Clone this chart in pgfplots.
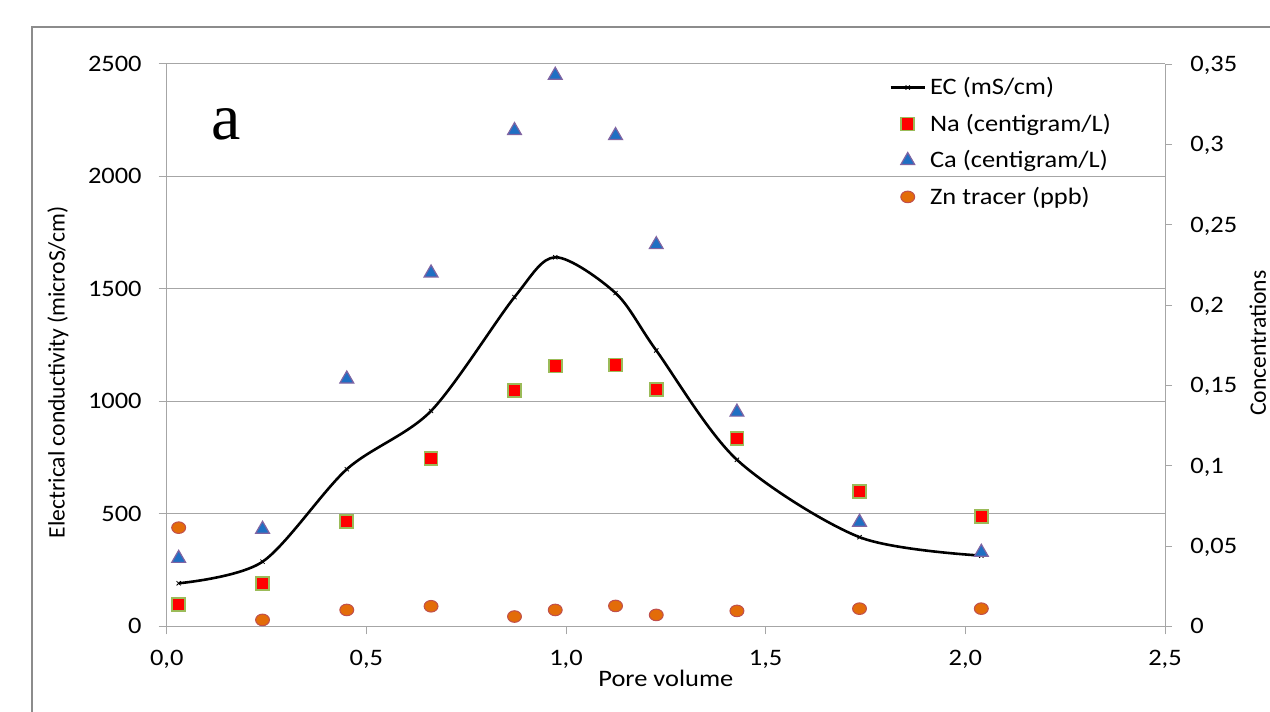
\documentclass[border=0pt]{standalone}
\usepackage{pgfplots}
\pgfplotsset{compat=1.18}
\usepackage{fontspec}
\setmainfont{Carlito}[FakeStretch=1.12]
\newfontfamily\plainfont{Carlito}
\newfontfamily\tnr{Liberation Serif}

\definecolor{gridgray}{HTML}{A6A6A6}
\definecolor{framegray}{HTML}{8C8C8C}
\definecolor{naRed}{HTML}{FF0000}
\definecolor{naEdge}{HTML}{9BBB59}
\definecolor{caBlue}{HTML}{1F6FC3}
\definecolor{caEdge}{HTML}{8064A2}
\definecolor{znOrange}{HTML}{E36C09}
\definecolor{znEdge}{HTML}{C0504D}

% pore volume, EC (left axis), Na / Ca / Zn (right axis)
\pgfplotstableread{
pv     EC    Na      Ca      Zn
0.030  192   0.0138  0.0424  0.0615
0.240  288   0.0269  0.0605  0.0041
0.451  699   0.0652  0.1540  0.0103
0.662  958   0.1046  0.2200  0.0126
0.871  1464  0.1469  0.3086  0.0062
0.973  1641  0.1622  0.3430  0.0103
1.124  1482  0.1627  0.3055  0.0128
1.226  1227  0.1473  0.2376  0.0072
1.428  741   0.1168  0.1334  0.0097
1.735  397   0.0840  0.0649  0.0111
2.040  315   0.0684  0.0462  0.0111
}\datatable

\newcommand\tickfont{\fontsize{11.8}{14}\selectfont}
\newcommand\rotfont{\plainfont\fontsize{11.8}{14}\selectfont}

\pgfplotsset{
  base/.style={
    scale only axis, width=499.15pt, height=281.25pt,
    at={(83.35pt,42.75pt)}, anchor=south west,
    xmin=0, xmax=2.5,
    tick label style={font=\tickfont},
    /pgf/number format/assume math mode=true,
    /pgf/number format/use comma,
    /pgf/number format/1000 sep={},
    axis line style={gridgray, line width=0.5pt, -},
    tick style={gridgray, line width=0.5pt},
    tick align=outside,
    scaled y ticks=false,
  }
}

\begin{document}
\begin{tikzpicture}
\path[use as bounding box] (0,0) rectangle (635pt,356pt);
\draw[framegray, line width=1pt] (16pt,-10pt) -- (16pt,342.5pt) -- (650pt,342.5pt);

\begin{axis}[base,
  ymin=0, ymax=2500,
  axis x line*=bottom, axis y line*=left,
  xtick={0,0.5,1,1.5,2,2.5},
  ytick={0,500,1000,1500,2000,2500},
  xticklabel={\pgfmathprintnumber[fixed,fixed zerofill,precision=1]{\tick}},
  ymajorgrids, grid style={gridgray, line width=0.5pt},
  major tick length=4pt,
  xticklabel style={anchor=base, inner sep=0pt, yshift=-15.75pt},
  yticklabel style={anchor=base east, inner sep=0pt, xshift=-8.35pt, yshift=-3.75pt},
  xlabel={Pore volume},
  xlabel style={font=\tickfont, at={(axis description cs:0.5,0)}, anchor=base, yshift=-30.25pt},
  ylabel={Electrical conductivity (microS/cm)},
  ylabel style={font=\rotfont, at={(axis description cs:-0.1089,0.452)}, anchor=center},
]
\addplot[black, line width=1.3pt, smooth, mark=x, mark size=1.5pt,
  mark options={solid, line width=0.4pt}] table[x=pv, y=EC] {\datatable};
\node[font=\tnr\fontsize{33}{33}\selectfont, anchor=base]
  at (axis description cs:0.0594,0.865) {a};
\end{axis}

\begin{axis}[base,
  ymin=0, ymax=0.35,
  axis y line*=right, axis x line=none,
  ytick={0,0.05,0.1,0.15,0.2,0.25,0.3,0.35},
  yticklabel={\pgfmathprintnumber[fixed,precision=2]{\tick}},
  major tick length=3.5pt,
  yticklabel style={anchor=base west, inner sep=0pt, xshift=9pt, yshift=-3.75pt},
  ylabel={Concentrations},
  ylabel style={font=\rotfont, at={(axis description cs:1.093,0.504)}, anchor=center},
  legend style={at={(axis description cs:0.7235,0.984)}, anchor=north west,
    draw=none, fill=none, inner sep=0pt, row sep=4.1pt, column sep=0pt,
    font=\tickfont, cells={anchor=west}},
  legend cell align=left,
]
\addlegendimage{black, line width=1.3pt, mark=x, mark size=1.5pt,
  mark options={solid, line width=0.4pt}}
\addlegendentry{EC (mS/cm)}
\addplot[only marks, mark=square*, mark size=3.25pt,
  mark options={fill=naRed, draw=naEdge, line width=0.8pt}]
  table[x=pv, y=Na] {\datatable};
\addlegendentry{Na (centigram/L)}
\addplot[only marks, mark=triangle*, mark size=4pt,
  mark options={fill=caBlue, draw=caEdge, line width=0.6pt}]
  table[x=pv, y=Ca] {\datatable};
\addlegendentry{Ca (centigram/L)}
\addplot[only marks, mark=*, mark size=2.9pt,
  mark options={fill=znOrange, draw=znEdge, line width=0.5pt, xscale=1.2}]
  table[x=pv, y=Zn] {\datatable};
\addlegendentry{Zn tracer (ppb)}
\end{axis}
\end{tikzpicture}
\end{document}
